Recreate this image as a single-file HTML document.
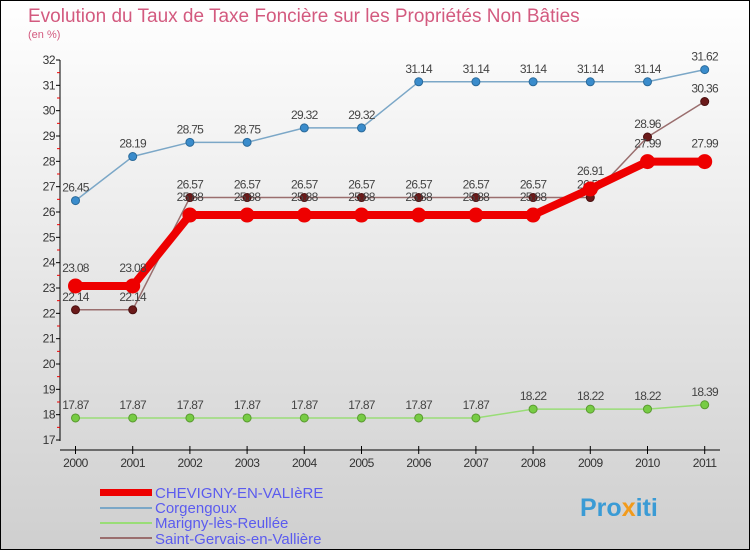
<!DOCTYPE html>
<html><head><meta charset="utf-8"><style>
body{margin:0;width:750px;height:550px;overflow:hidden}
svg{display:block;font-family:"Liberation Sans",sans-serif}
</style></head><body>
<svg id="c" width="750" height="550">
<defs><linearGradient id="bg" x1="0" y1="0" x2="0" y2="1"><stop offset="0" stop-color="#ffffff"/><stop offset="1" stop-color="#cfcfcf"/></linearGradient></defs>
<rect x="0.5" y="0.5" width="749" height="549" fill="url(#bg)" stroke="#000"/>
<text x="28" y="22" font-size="19" fill="#d35a7f">Evolution du Taux de Taxe Foncière sur les Propriétés Non Bâties</text>
<text x="28" y="38" font-size="11" fill="#d35a7f">(en %)</text>
<g id="axes"></g><g id="series"></g>
<g>
<rect x="100" y="489" width="52" height="7" fill="#e00"/>
<text x="155" y="498" font-size="15" fill="#5b5bef">CHEVIGNY-EN-VALIèRE</text>
<rect x="100" y="507" width="52" height="2" fill="#7ba7c7"/>
<text x="155" y="513" font-size="15" fill="#5b5bef">Corgengoux</text>
<rect x="100" y="522" width="52" height="2" fill="#99dd77"/>
<text x="155" y="528" font-size="15" fill="#5b5bef">Marigny-lès-Reullée</text>
<rect x="100" y="537" width="52" height="2" fill="#9a6e6e"/>
<text x="155" y="544" font-size="15" fill="#5b5bef">Saint-Gervais-en-Vallière</text>
</g>
<text x="580" y="516" font-size="25" font-weight="bold" fill="#3a9bd5">Pro<tspan fill="#f29a1a">x</tspan>iti</text>
</svg>
<script>
const years=[2000,2001,2002,2003,2004,2005,2006,2007,2008,2009,2010,2011];
const yTicks=[17,18,19,20,21,22,23,24,25,26,27,28,29,30,31,32];
const chevigny=[23.08,23.08,25.88,25.88,25.88,25.88,25.88,25.88,25.88,26.91,27.99,27.99];
const corgengoux=[26.45,28.19,28.75,28.75,29.32,29.32,31.14,31.14,31.14,31.14,31.14,31.62];
const marigny=[17.87,17.87,17.87,17.87,17.87,17.87,17.87,17.87,18.22,18.22,18.22,18.39];
const stgervais=[22.14,22.14,26.57,26.57,26.57,26.57,26.57,26.57,26.57,26.57,28.96,30.36];
const NS='http://www.w3.org/2000/svg';
const X=i=>75.5+i*57.2, Y=v=>440-(v-17)*(380/15);
function mk(p,t,a){const e=document.createElementNS(NS,t);for(const k in a)e.setAttribute(k,a[k]);p.appendChild(e);return e;}
const ax=document.getElementById('axes'), sg=document.getElementById('series');
let yl=mk(ax,'line',{x1:60,y1:60,x2:60,y2:441,stroke:'#000'});


yTicks.forEach(v=>{mk(ax,'line',{x1:56,x2:60,y1:Y(v),y2:Y(v),stroke:'#000'});
 if(v<32) mk(ax,'line',{x1:57,x2:60,y1:Y(v+0.5),y2:Y(v+0.5),stroke:'#e00'});
 const t=mk(ax,'text',{x:55,y:Y(v)+4,'font-size':12,'text-anchor':'end',fill:'#333','letter-spacing':'-0.5'});t.textContent=v;
 
 });
let xl=mk(ax,'line',{x1:60,y1:450,x2:720,y2:450,stroke:'#000'});


years.forEach((y,i)=>{mk(ax,'line',{x1:X(i),x2:X(i),y1:446,y2:454,stroke:'#000'});
 const t=mk(ax,'text',{x:X(i),y:467,'font-size':12,'text-anchor':'middle',fill:'#333','letter-spacing':'-0.5'});t.textContent=y;
 
 });
function series(d,name,color,w,r,dot,dotStroke,lblDy){
 const g=mk(sg,'g',{});
 
 
 mk(g,'polyline',{points:d.map((v,i)=>X(i)+','+Y(v)).join(' '),fill:'none',stroke:color,'stroke-width':w,'stroke-linejoin':'round'});
 d.forEach((v,i)=>{const c=mk(g,'circle',{cx:X(i),cy:Y(v),r:r,fill:dot,stroke:dotStroke,'stroke-width':1});
  
  
  const t=mk(g,'text',{x:X(i),y:Y(v)+lblDy,'font-size':12,'text-anchor':'middle',fill:'#444','letter-spacing':'-0.7'});t.textContent=v.toFixed(2);
  
  });
}
series(marigny,'series-marigny','#99dd77',1.5,4,'#77cc44','#5a9a30',-9);
series(corgengoux,'series-corgengoux','#7ba7c7',1.5,4,'#3a8ccc','#2a6a9a',-9);
series(stgervais,'series-saint-gervais','#9a6e6e',1.5,4,'#6b1a1a','#4a1010',-9);
series(chevigny,'series-chevigny','#ee0000',8,7,'#ee0000','#ee0000',-14);
</script>
</body></html>
